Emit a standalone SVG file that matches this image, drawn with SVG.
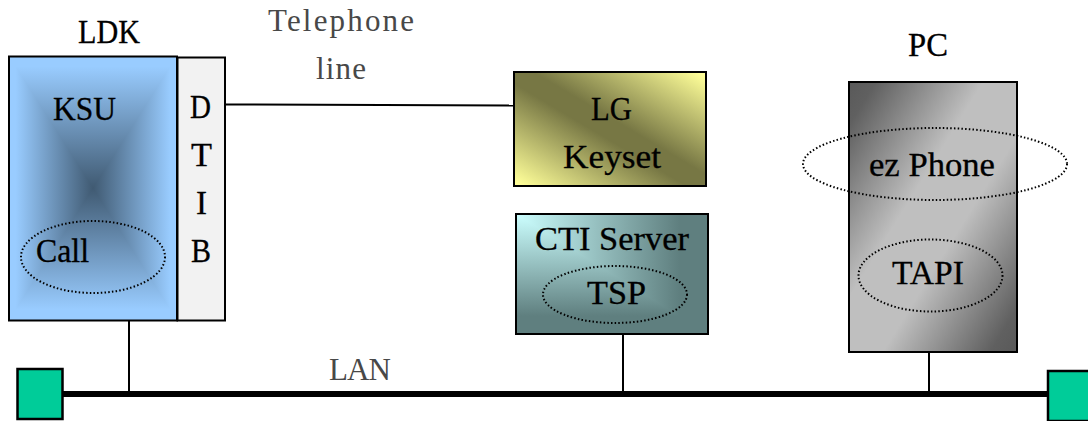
<svg xmlns="http://www.w3.org/2000/svg" width="1088" height="421" viewBox="0 0 1088 421">
<style>
text{font-family:"Liberation Serif","DejaVu Serif",serif;font-size:33px;fill:#000;stroke:#000;stroke-width:.3;text-anchor:start}
.soft{fill:#484848;stroke:none;font-size:31px}
.box{fill:none;stroke:#000;stroke-width:2}
.dot{fill:none;stroke:#000;stroke-width:2;stroke-dasharray:1.5 2.2}
.wire{fill:none;stroke:#000;stroke-width:2}
.sq{fill:#00CC99;stroke:#000;stroke-width:2.5}
.tile{shape-rendering:crispEdges}
</style>
<defs>
<linearGradient id="kl" gradientUnits="userSpaceOnUse" x1="9" y1="0" x2="93" y2="0"><stop offset="0.08" stop-color="#99CCFF"/><stop offset="1" stop-color="#405A72"/></linearGradient>
<linearGradient id="kr" gradientUnits="userSpaceOnUse" x1="177" y1="0" x2="93" y2="0"><stop offset="0.08" stop-color="#99CCFF"/><stop offset="1" stop-color="#405A72"/></linearGradient>
<linearGradient id="kt" gradientUnits="userSpaceOnUse" x1="0" y1="56" x2="0" y2="188"><stop offset="0.08" stop-color="#99CCFF"/><stop offset="1" stop-color="#405A72"/></linearGradient>
<linearGradient id="kb" gradientUnits="userSpaceOnUse" x1="0" y1="320" x2="0" y2="188"><stop offset="0.08" stop-color="#99CCFF"/><stop offset="1" stop-color="#405A72"/></linearGradient>
<linearGradient id="lg" x1="0" y1="1" x2="1" y2="0"><stop offset="0.02" stop-color="#FFFF99"/><stop offset="0.45" stop-color="#777744"/><stop offset="0.55" stop-color="#777744"/><stop offset="0.98" stop-color="#FFFF99"/></linearGradient>
<linearGradient id="ch" gradientUnits="userSpaceOnUse" x1="516" y1="0" x2="708" y2="0"><stop offset="0" stop-color="#CCFFFF"/><stop offset="0.85" stop-color="#5F7F7F"/></linearGradient>
<linearGradient id="cv" gradientUnits="userSpaceOnUse" x1="0" y1="214" x2="0" y2="334"><stop offset="0" stop-color="#CCFFFF"/><stop offset="0.85" stop-color="#5F7F7F"/></linearGradient>
<linearGradient id="pc" x1="0" y1="0" x2="1" y2="1"><stop offset="0" stop-color="#595959"/><stop offset="0.08" stop-color="#606060"/><stop offset="0.4" stop-color="#BFBFBF"/><stop offset="0.6" stop-color="#BFBFBF"/><stop offset="0.92" stop-color="#606060"/><stop offset="1" stop-color="#595959"/></linearGradient>
</defs>
<g id="connectors">
<path class="wire" d="M226 104.500L514 105.500"/>
<path class="wire" d="M129 321V392"/>
<path class="wire" d="M623 335V392"/>
<path class="wire" d="M929 352V392"/>
<path d="M62 394H1048" fill="none" stroke="#000" stroke-width="6"/>
</g>
<g id="ksu">
<polygon class="tile" points="9,56.500 9,320.500 93,188.500" fill="url(#kl)"/>
<polygon class="tile" points="177,56.500 177,320.500 93,188.500" fill="url(#kr)"/>
<polygon class="tile" points="9,56.500 177,56.500 93,188.500" fill="url(#kt)"/>
<polygon class="tile" points="9,320.500 177,320.500 93,188.500" fill="url(#kb)"/>
<rect class="box" x="9" y="56.500" width="168" height="264"/>
<text x="53" y="120" textLength="63" lengthAdjust="spacingAndGlyphs">KSU</text>
</g>
<g id="ldk-label"><text x="78" y="43" textLength="62" lengthAdjust="spacingAndGlyphs">LDK</text></g>
<g id="call">
<ellipse class="dot" cx="93" cy="257" rx="72" ry="36"/>
<text x="36" y="262" textLength="53" lengthAdjust="spacingAndGlyphs">Call</text>
</g>
<g id="dtib">
<rect x="177.500" y="57.500" width="47.500" height="263" fill="#F2F2F2" stroke="#000" stroke-width="2"/>
<text x="190" y="118" textLength="21" lengthAdjust="spacingAndGlyphs">D</text>
<text x="191" y="166" textLength="21" lengthAdjust="spacingAndGlyphs">T</text>
<text x="196" y="214" textLength="11" lengthAdjust="spacingAndGlyphs">I</text>
<text x="191" y="262" textLength="20" lengthAdjust="spacingAndGlyphs">B</text>
</g>
<g id="telephone-label">
<text class="soft" x="268" y="31" textLength="146" lengthAdjust="spacing">Telephone</text>
<text class="soft" x="316" y="79" textLength="50" lengthAdjust="spacing">line</text>
</g>
<g id="lg-keyset">
<rect class="tile" x="514" y="72" width="192" height="114" fill="url(#lg)"/>
<rect class="box" x="514" y="72" width="192" height="114"/>
<text x="591" y="120" textLength="41" lengthAdjust="spacingAndGlyphs">LG</text>
<text x="563" y="168" textLength="98" lengthAdjust="spacingAndGlyphs">Keyset</text>
</g>
<g id="cti-server">
<polygon class="tile" points="516,214 708,214 708,334" fill="url(#ch)"/>
<polygon class="tile" points="516,214 516,334 708,334" fill="url(#cv)"/>
<rect class="box" x="516" y="214" width="192" height="120"/>
<text x="535" y="250" textLength="154" lengthAdjust="spacingAndGlyphs">CTI Server</text>
</g>
<g id="tsp">
<ellipse class="dot" cx="615" cy="294.500" rx="72" ry="28.500"/>
<text x="587" y="304" textLength="59" lengthAdjust="spacingAndGlyphs">TSP</text>
</g>
<g id="pc-box">
<rect class="tile" x="849" y="82" width="168" height="270" fill="url(#pc)"/>
<rect class="box" x="849" y="82" width="168" height="270"/>
</g>
<g id="pc-label"><text x="908" y="56" textLength="40" lengthAdjust="spacingAndGlyphs">PC</text></g>
<g id="ez-phone">
<ellipse class="dot" cx="935" cy="164" rx="132" ry="36"/>
<text x="869" y="176" textLength="126" lengthAdjust="spacingAndGlyphs">ez Phone</text>
</g>
<g id="tapi">
<ellipse class="dot" cx="930.500" cy="275.500" rx="72" ry="36"/>
<text x="892" y="284" textLength="72" lengthAdjust="spacingAndGlyphs">TAPI</text>
</g>
<g id="lan-label"><text class="soft" x="329" y="380" textLength="62" lengthAdjust="spacing">LAN</text></g>
<g id="term-left"><rect class="sq" x="17.500" y="369" width="45" height="50"/></g>
<g id="term-right"><rect class="sq" x="1048" y="371" width="45" height="50"/></g>
</svg>
